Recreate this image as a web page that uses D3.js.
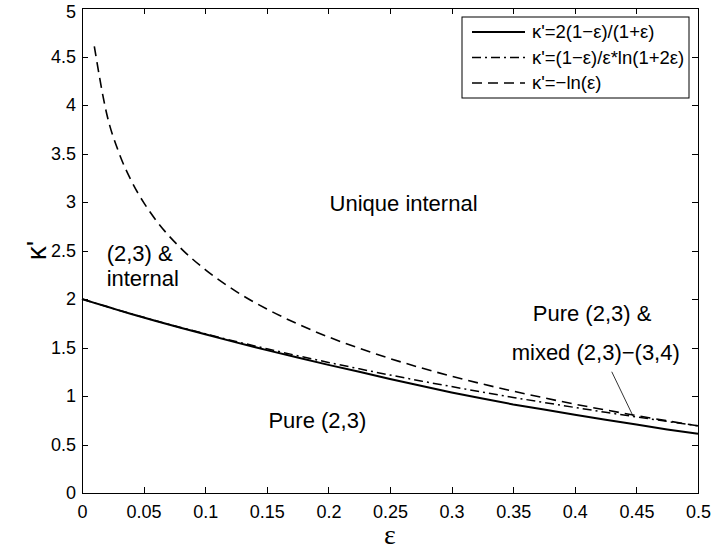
<!DOCTYPE html>
<meta charset="utf-8">
<style>
    body { margin: 0; background: #fff; }
    text { font-family: "Liberation Sans", Arial, sans-serif; fill: #000; }
    .axis path, .axis line { stroke: #000; stroke-width: 1px; shape-rendering: crispEdges; }
    .axis text { font-size: 18px; }
    .line { fill: none; stroke: #000; }
</style>
<body>
<script src="https://d3js.org/d3.v7.min.js"></script>
<script>

    // values
    var epsVals = [0, 0.01, 0.02, 0.03, 0.04, 0.05, 0.06, 0.08, 0.1, 0.125, 0.15, 0.175, 0.2,
        0.225, 0.25, 0.275, 0.3, 0.325, 0.35, 0.375, 0.4, 0.425, 0.45, 0.475, 0.5];
    var kappaSolid = [2.000, 1.960, 1.922, 1.883, 1.846, 1.809, 1.773, 1.703, 1.636, 1.553, 1.473, 1.396, 1.321,
        1.250, 1.175, 1.105, 1.037, 0.975, 0.913, 0.860, 0.807, 0.756, 0.707, 0.655, 0.610];
    var kappaDashDot = [2.000, 1.960, 1.922, 1.884, 1.847, 1.811, 1.775, 1.707, 1.641, 1.562, 1.487, 1.415, 1.346,
        1.280, 1.216, 1.155, 1.097, 1.040, 0.985, 0.933, 0.882, 0.832, 0.784, 0.738, 0.693];
    var kappaDashed = [null, 4.605, 3.912, 3.507, 3.219, 2.996, 2.813, 2.526, 2.303, 2.079, 1.897, 1.743, 1.609,
        1.492, 1.386, 1.291, 1.204, 1.124, 1.050, 0.981, 0.916, 0.856, 0.799, 0.744, 0.693];

    var xTicks = [0, 0.05, 0.1, 0.15, 0.2, 0.25, 0.3, 0.35, 0.4, 0.45, 0.5];
    var xTickLabels = ["0", "0.05", "0.1", "0.15", "0.2", "0.25", "0.3", "0.35", "0.4", "0.45", "0.5"];
    var yTicks = [0, 0.5, 1, 1.5, 2, 2.5, 3, 3.5, 4, 4.5, 5];
    var yTickLabels = ["0", "0.5", "1", "1.5", "2", "2.5", "3", "3.5", "4", "4.5", "5"];

    var legendLabels = ["\u03ba'=2(1\u2212\u03b5)/(1+\u03b5)", "\u03ba'=(1\u2212\u03b5)/\u03b5*ln(1+2\u03b5)", "\u03ba'=\u2212ln(\u03b5)"];

    // region labels: [text, eps, kappa, anchor]
    var regionLabels = [
        ["Unique internal", 0.261, 2.99, "middle"],
        ["(2,3) &", 0.02, 2.47, "start"],
        ["internal", 0.02, 2.21, "start"],
        ["Pure (2,3) &", 0.414, 1.85, "middle"],
        ["mixed (2,3)\u2212(3,4)", 0.417, 1.45, "middle"],
        ["Pure (2,3)", 0.191, 0.75, "middle"]
    ];
    // pointer line from label to curve
    var pointer = [[0.43, 1.25], [0.4475, 0.787]];

    var margin = { top: 8, right: 15, bottom: 59, left: 82 },
        width = 713 - margin.left - margin.right,
        height = 552 - margin.top - margin.bottom;

    var x = d3.scaleLinear().domain([0, 0.5]).range([0, width]);
    var y = d3.scaleLinear().domain([0, 5]).range([height, 0]);

    var svg = d3.select("body").append("svg")
        .attr("width", 713)
        .attr("height", 552)
        .append("g")
        .attr("transform", "translate(" + margin.left + "," + margin.top + ")");

    // axes, MATLAB style with ticks pointing in on all four sides
    svg.append("g")
        .attr("class", "axis")
        .attr("transform", "translate(0," + height + ")")
        .call(d3.axisBottom(x).tickValues(xTicks).tickSize(-6).tickPadding(12)
            .tickFormat(function (d, i) { return xTickLabels[i]; }));

    var yAxis = svg.append("g")
        .attr("class", "axis")
        .call(d3.axisLeft(y).tickValues(yTicks).tickSize(-6).tickPadding(6)
            .tickFormat(function (d, i) { return yTickLabels[i]; }));
    // top label sits a little lower, as in the original
    yAxis.selectAll(".tick text").filter(function (d) { return d === 5; })
        .attr("dy", "0.5em");

    svg.append("g")
        .attr("class", "axis")
        .call(d3.axisTop(x).tickValues(xTicks).tickSize(-6).tickFormat(""));

    svg.append("g")
        .attr("class", "axis")
        .attr("transform", "translate(" + width + ",0)")
        .call(d3.axisRight(y).tickValues(yTicks).tickSize(-6).tickFormat(""));

    // curves
    function series(vals) {
        return epsVals.map(function (e, i) { return { e: e, k: vals[i] }; })
            .filter(function (d) { return d.k !== null; });
    }

    var line = d3.line()
        .x(function (d) { return x(d.e); })
        .y(function (d) { return y(d.k); });

    var smoothLine = d3.line()
        .curve(d3.curveMonotoneX)
        .x(function (d) { return x(d.e); })
        .y(function (d) { return y(d.k); });

    var styles = [
        { width: 2, dash: null },
        { width: 1.5, dash: "9,4,2,4" },
        { width: 1.6, dash: "10,6" }
    ];

    svg.append("path")
        .datum(series(kappaDashed))
        .attr("class", "line")
        .attr("stroke-width", styles[2].width)
        .attr("stroke-dasharray", styles[2].dash)
        .attr("d", smoothLine);

    svg.append("path")
        .datum(series(kappaDashDot))
        .attr("class", "line")
        .attr("stroke-width", styles[1].width)
        .attr("stroke-dasharray", styles[1].dash)
        .attr("d", line);

    svg.append("path")
        .datum(series(kappaSolid))
        .attr("class", "line")
        .attr("stroke-width", styles[0].width)
        .attr("d", line);

    // region labels
    regionLabels.forEach(function (r) {
        svg.append("text")
            .attr("x", x(r[1]))
            .attr("y", y(r[2]))
            .attr("dy", "0.35em")
            .attr("text-anchor", r[3])
            .style("font-size", "22px")
            .text(r[0]);
    });

    svg.append("line")
        .attr("x1", x(pointer[0][0])).attr("y1", y(pointer[0][1]))
        .attr("x2", x(pointer[1][0])).attr("y2", y(pointer[1][1]))
        .attr("stroke", "#000")
        .attr("stroke-width", 0.8);

    // legend
    var lg = svg.append("g")
        .attr("transform", "translate(" + (462 - margin.left) + "," + (17 - margin.top) + ")");

    lg.append("rect")
        .attr("width", 227)
        .attr("height", 81)
        .attr("fill", "#fff")
        .attr("stroke", "#000")
        .attr("stroke-width", 1);

    legendLabels.forEach(function (t, i) {
        var ry = 15 + i * 25.5;
        lg.append("line")
            .attr("x1", 10).attr("x2", 63)
            .attr("y1", ry).attr("y2", ry)
            .attr("stroke", "#000")
            .attr("stroke-width", styles[i].width)
            .attr("stroke-dasharray", styles[i].dash);
        lg.append("text")
            .attr("x", 70)
            .attr("y", ry)
            .attr("dy", "0.35em")
            .style("font-size", "18.5px")
            .text(t);
    });

    // axis titles
    svg.append("text")
        .attr("x", width / 2)
        .attr("y", height + 51)
        .attr("text-anchor", "middle")
        .style("font-family", "'Liberation Serif', serif")
        .style("font-size", "28px")
        .text("\u03b5");

    svg.append("text")
        .attr("transform", "rotate(-90)")
        .attr("x", -height / 2)
        .attr("y", -36)
        .attr("text-anchor", "middle")
        .style("font-size", "28px")
        .text("\u03ba'");

</script>
</body>
